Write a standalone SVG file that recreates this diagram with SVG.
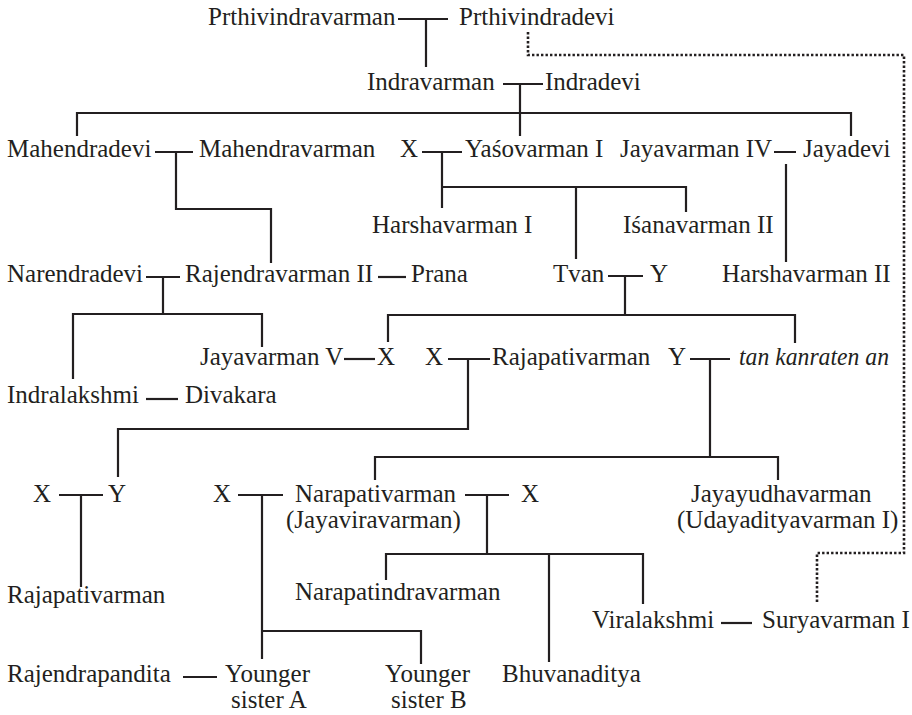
<svg xmlns="http://www.w3.org/2000/svg" width="912" height="715" viewBox="0 0 912 715">
  <style>
    .n text { font-family: "Liberation Serif", "Times New Roman", serif; font-size: 25px; fill: #231f20; }
    .n text.it { font-style: italic; }
    .lines path { fill: none; stroke: #231f20; stroke-width: 2.2; }
    .lines path.dot { stroke-width: 2.6; stroke-dasharray: 2.4 2.1; }
  </style>
  <rect width="912" height="715" fill="#ffffff"/>

  <!-- family connectors -->
  <g id="connectors" class="lines">
    <path d="M398,19 H448 M426,19 V67"/>
    <path d="M503,84 H543 M520,84 V136 M77,136 V113 H851 V136"/>
    <path d="M155,152 H193 M176,152 V209 H271 V263"/>
    <path d="M422,152 H462 M442,152 V208 M442,187 H686 V212 M576,187 V259"/>
    <path d="M774,152 H796 M786,164 V262"/>
    <path d="M146,277 H180 M163,277 V314 M73,379 V314 H262 V347"/>
    <path d="M378,277 H406"/>
    <path d="M608,276 H643 M625,276 V315 M388,342 V315 H795 V343"/>
    <path d="M344,359 H375"/>
    <path d="M448,359 H490 M468,359 V429 H118 V477"/>
    <path d="M690,359 H730 M710,359 V457 M375,480 V457 H778 V480"/>
    <path d="M146,399 H178"/>
    <path d="M59,495 H103 M81,495 V587"/>
    <path d="M238,495 H283 M262,495 V659 M262,631 H421 V664"/>
    <path d="M465,495 H509 M487,495 V554 M386,580 V554 H643 V604 M549,554 V662"/>
    <path d="M721,623 H752"/>
    <path d="M183,677 H217"/>
    <path class="dot" d="M528,32 V55 H904 V553 H817 V604"/>
  </g>

  <g id="prthivindravarman" class="n"><text x="208" y="25">Prthivindravarman</text></g>
  <g id="prthivindradevi" class="n"><text x="459" y="25">Prthivindradevi</text></g>
  <g id="indravarman" class="n"><text x="367" y="90">Indravarman</text></g>
  <g id="indradevi" class="n"><text x="545" y="90">Indradevi</text></g>
  <g id="mahendradevi" class="n"><text x="7" y="157">Mahendradevi</text></g>
  <g id="mahendravarman" class="n"><text x="199" y="157">Mahendravarman</text></g>
  <g id="x1" class="n"><text x="400" y="157">X</text></g>
  <g id="yasovarman1" class="n"><text x="465" y="157">Yaśovarman I</text></g>
  <g id="jayavarman4" class="n"><text x="620" y="157">Jayavarman IV</text></g>
  <g id="jayadevi" class="n"><text x="803" y="157">Jayadevi</text></g>
  <g id="harshavarman1" class="n"><text x="372" y="233">Harshavarman I</text></g>
  <g id="isanavarman2" class="n"><text x="623" y="233">Iśanavarman II</text></g>
  <g id="narendradevi" class="n"><text x="7" y="282">Narendradevi</text></g>
  <g id="rajendravarman2" class="n"><text x="185" y="282">Rajendravarman II</text></g>
  <g id="prana" class="n"><text x="411" y="282">Prana</text></g>
  <g id="tvan" class="n"><text x="553" y="282">Tvan</text></g>
  <g id="y1" class="n"><text x="650" y="282">Y</text></g>
  <g id="harshavarman2" class="n"><text x="722" y="282">Harshavarman II</text></g>
  <g id="jayavarman5" class="n"><text x="200" y="365">Jayavarman V</text></g>
  <g id="x2" class="n"><text x="377" y="365">X</text></g>
  <g id="x3" class="n"><text x="425" y="365">X</text></g>
  <g id="rajapativarman1" class="n"><text x="492" y="365">Rajapativarman</text></g>
  <g id="y2" class="n"><text x="668" y="365">Y</text></g>
  <g id="tan-kanraten-an" class="n"><text class="it" x="739" y="365" textLength="150" lengthAdjust="spacingAndGlyphs">tan kanraten an</text></g>
  <g id="indralakshmi" class="n"><text x="7" y="403">Indralakshmi</text></g>
  <g id="divakara" class="n"><text x="185" y="403">Divakara</text></g>
  <g id="x4" class="n"><text x="33" y="502">X</text></g>
  <g id="y3" class="n"><text x="108" y="502">Y</text></g>
  <g id="x5" class="n"><text x="213" y="502">X</text></g>
  <g id="narapativarman" class="n"><text x="295" y="502">Narapativarman</text><text x="286" y="528">(Jayaviravarman)</text></g>
  <g id="x6" class="n"><text x="521" y="502">X</text></g>
  <g id="jayayudhavarman" class="n"><text x="691" y="502">Jayayudhavarman</text><text x="677" y="528">(Udayadityavarman I)</text></g>
  <g id="rajapativarman2" class="n"><text x="7" y="603">Rajapativarman</text></g>
  <g id="narapatindravarman" class="n"><text x="295" y="600">Narapatindravarman</text></g>
  <g id="viralakshmi" class="n"><text x="592" y="628">Viralakshmi</text></g>
  <g id="suryavarman1" class="n"><text x="762" y="628">Suryavarman I</text></g>
  <g id="rajendrapandita" class="n"><text x="7" y="682">Rajendrapandita</text></g>
  <g id="sister-a" class="n"><text x="225" y="682">Younger</text><text x="231" y="708">sister A</text></g>
  <g id="bhuvanaditya" class="n"><text x="502" y="682">Bhuvanaditya</text></g>
  <g id="sister-b" class="n"><text x="385" y="682">Younger</text><text x="391" y="708">sister B</text></g>
</svg>
